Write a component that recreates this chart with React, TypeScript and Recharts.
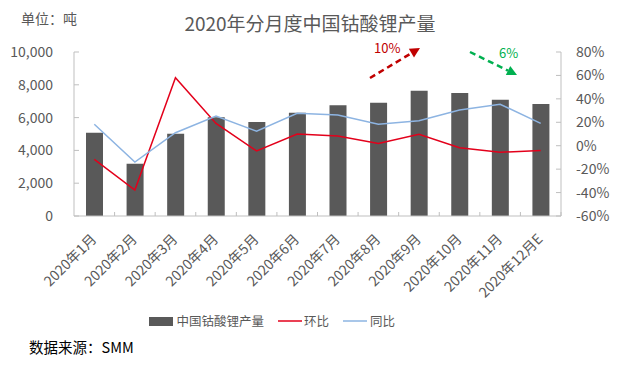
import React from 'react';
import { ComposedChart, Bar, Line, XAxis, YAxis } from 'recharts';

const months = ['2020年1月', '2020年2月', '2020年3月', '2020年4月', '2020年5月', '2020年6月', '2020年7月', '2020年8月', '2020年9月', '2020年10月', '2020年11月', '2020年12月E'];
const production = [5080, 3190, 5020, 6020, 5730, 6300, 6750, 6910, 7640, 7500, 7090, 6830];
const mom = [-11.6, -37.8, 58, 19, -4.5, 10, 8.3, 2, 9.7, -1.7, -5.6, -4];
const yoy = [18.3, -13.9, 11.1, 25.4, 12.3, 27.7, 26.2, 18.3, 21.4, 30.5, 35.4, 19.1];
const leftTicks = [0, 2000, 4000, 6000, 8000, 10000];
const rightTicks = [-60, -40, -20, 0, 20, 40, 60, 80];

const data = months.map((m, i) => ({ month: m, production: production[i], mom: mom[i], yoy: yoy[i] }));

const W = 617;
const H = 367;
const LEFT_W = 74;
const RIGHT_W = 56;
const TOP = 52;
const PLOT_BOTTOM = 216;
const XAXIS_H = 30;
const BAND = (W - LEFT_W - RIGHT_W) / months.length;
const FONT = "'Noto Sans CJK SC', 'Noto Sans', sans-serif";
const GRAY = '#595959';
const AXIS = '#BFBFBF';
const RED = '#E3001B';
const BLUE = '#8DB4E2';

const XTick = (props: any) => {
  const { x, y, payload } = props;
  return (
    <g>
      <line x1={x + BAND / 2} x2={x + BAND / 2} y1={y - 4} y2={y} stroke={AXIS} strokeWidth={1} />
      <text
        transform={`translate(${x + 3},${y + 24}) rotate(-45)`}
        textAnchor="end"
        fontSize={14}
        fill={GRAY}
        fontFamily={FONT}
      >
        {payload.value}
      </text>
    </g>
  );
};

const Arrow = ({ x1, y1, x2, y2, color }: any) => {
  const dx = x2 - x1;
  const dy = y2 - y1;
  const len = Math.sqrt(dx * dx + dy * dy);
  const ux = dx / len;
  const uy = dy / len;
  const hl = 10;
  const hw = 5;
  const bx = x2 - ux * hl;
  const by = y2 - uy * hl;
  const px = -uy;
  const py = ux;
  return (
    <g>
      <line x1={x1} y1={y1} x2={bx} y2={by} stroke={color} strokeWidth={2.5} strokeDasharray="6 4" />
      <polygon points={`${x2},${y2} ${bx + px * hw},${by + py * hw} ${bx - px * hw},${by - py * hw}`} fill={color} />
    </g>
  );
};

export default function App() {
  return (
    <div style={{ position: 'relative', width: W, height: H, background: '#fff', fontFamily: FONT }}>
      <style>{`body{margin:0;}`}</style>
      <div style={{ position: 'absolute', left: 0, top: 0 }}>
        <ComposedChart
          width={W}
          height={H}
          data={data}
          margin={{ top: TOP, right: 0, left: 0, bottom: H - PLOT_BOTTOM - XAXIS_H }}
        >
          <XAxis
            dataKey="month"
            interval={0}
            height={XAXIS_H}
            axisLine={{ stroke: AXIS }}
            tickLine={false}
            tickSize={0}
            tickMargin={0}
            tick={<XTick />}
          />
          <YAxis
            yAxisId="left"
            orientation="left"
            width={LEFT_W}
            domain={[0, 10000]}
            ticks={leftTicks}
            interval={0}
            tickFormatter={(v: number) => v.toLocaleString('en-US')}
            axisLine={{ stroke: AXIS }}
            tickLine={{ stroke: AXIS }}
            tickSize={-5}
            tickMargin={26}
            tick={{ fontSize: 14, fill: GRAY, fontFamily: FONT }}
          />
          <YAxis
            yAxisId="right"
            orientation="right"
            width={RIGHT_W}
            domain={[-60, 80]}
            ticks={rightTicks}
            interval={0}
            tickFormatter={(v: number) => `${v}%`}
            axisLine={{ stroke: AXIS }}
            tickLine={{ stroke: AXIS }}
            tickSize={-5}
            tickMargin={20}
            tick={{ fontSize: 14, fill: GRAY, fontFamily: FONT, textAnchor: 'start' }}
          />
          <Bar yAxisId="left" dataKey="production" fill={GRAY} barSize={17} isAnimationActive={false} />
          <Line yAxisId="right" type="linear" dataKey="mom" stroke={RED} strokeWidth={1.5} dot={false} isAnimationActive={false} />
          <Line yAxisId="right" type="linear" dataKey="yoy" stroke={BLUE} strokeWidth={1.5} dot={false} isAnimationActive={false} />
        </ComposedChart>
      </div>
      <svg width={W} height={H} style={{ position: 'absolute', left: 0, top: 0, pointerEvents: 'none' }}>
        <text x={21} y={23.5} fontSize={14} fill={GRAY} fontFamily={FONT}>单位：吨</text>
        <text x={310} y={30.5} textAnchor="middle" fontSize={19} fill={GRAY} fontFamily={FONT}>2020年分月度中国钴酸锂产量</text>
        <Arrow x1={370} y1={78} x2={420} y2={48} color="#C00000" />
        <text x={374} y={53} fontSize={13} fill="#C00000" fontFamily={FONT}>10%</text>
        <Arrow x1={470} y1={52} x2={517} y2={75} color="#00B050" />
        <text x={499} y={58} fontSize={13} fill="#00B050" fontFamily={FONT}>6%</text>
        <rect x={149} y={317} width={24} height={9} fill={GRAY} />
        <text x={176.5} y={325.5} fontSize={12.5} fill={GRAY} fontFamily={FONT}>中国钴酸锂产量</text>
        <line x1={278} x2={302} y1={321} y2={321} stroke={RED} strokeWidth={1.5} />
        <text x={304} y={325.5} fontSize={12.5} fill={GRAY} fontFamily={FONT}>环比</text>
        <line x1={343} x2={367} y1={321} y2={321} stroke={BLUE} strokeWidth={1.5} />
        <text x={370} y={325.5} fontSize={12.5} fill={GRAY} fontFamily={FONT}>同比</text>
        <text x={29} y={353} fontSize={14.5} fill="#000" fontFamily={FONT}>数据来源：SMM</text>
      </svg>
    </div>
  );
}
